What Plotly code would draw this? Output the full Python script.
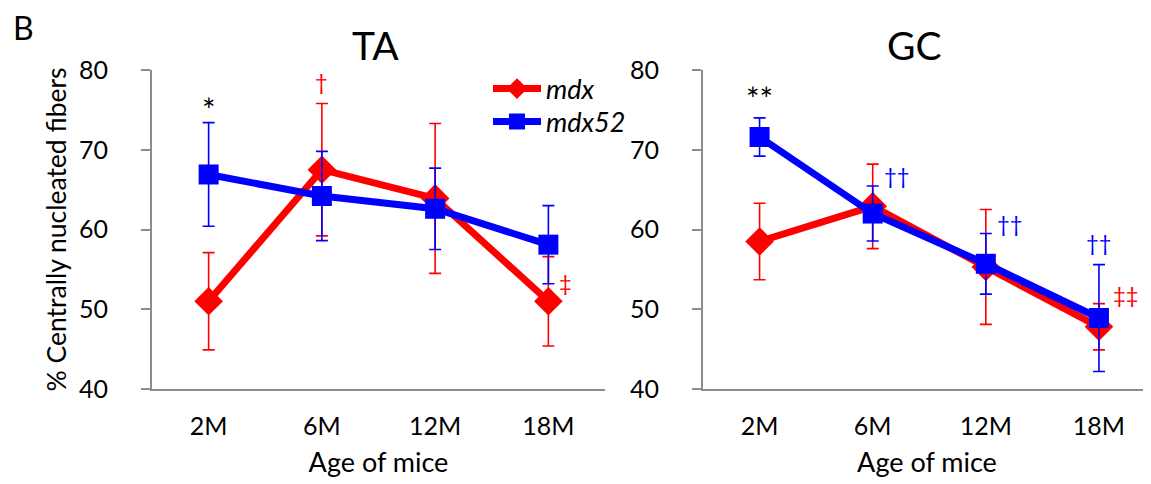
import plotly.graph_objects as go

ages = ["2M", "6M", "12M", "18M"]

ta_mdx = [51.0, 67.5, 63.9, 51.0]
ta_mdx_err = [6.1, 8.3, 9.4, 5.6]
ta_mdx52 = [66.9, 64.2, 62.6, 58.1]
ta_mdx52_err = [6.5, 5.6, 5.1, 4.9]

gc_mdx = [58.5, 62.9, 55.3, 47.8]
gc_mdx_err = [4.8, 5.3, 7.2, 2.9]
gc_mdx52 = [71.6, 62.0, 55.7, 48.9]
gc_mdx52_err = [2.4, 3.45, 3.8, 6.7]

RED = "#FF0000"
BLUE = "#0000FF"
FONT = "Lato"

OFF = 8  # default page body margin
W, H = 1151 - OFF, 484 - OFF
TOP, BOT = 70 - OFF, 389 - OFF  # plot area rows in figure pixels


def px(p):
    return (p - OFF) / W


def py(p):
    return (BOT - (p - OFF)) / (BOT - TOP)


fig = go.Figure()


def add_pair(xa, ya, mdx, mdx_e, m52, m52_e, show):
    fig.add_trace(go.Scatter(
        x=ages, y=mdx, name="<i>mdx</i>", mode="lines+markers",
        xaxis=xa, yaxis=ya, showlegend=show, legend="legend",
        line=dict(color=RED, width=7),
        marker=dict(symbol="diamond", size=22, color=RED),
        error_y=dict(type="data", array=mdx_e, visible=True, color=RED, thickness=1.6, width=6),
    ))
    fig.add_trace(go.Scatter(
        x=ages, y=m52, name="<i>mdx52</i>", mode="lines+markers",
        xaxis=xa, yaxis=ya, showlegend=show, legend="legend2",
        line=dict(color=BLUE, width=7),
        marker=dict(symbol="square", size=20, color=BLUE),
        error_y=dict(type="data", array=m52_e, visible=True, color=BLUE, thickness=1.6, width=6),
    ))


add_pair("x", "y", ta_mdx, ta_mdx_err, ta_mdx52, ta_mdx52_err, True)
add_pair("x2", "y2", gc_mdx, gc_mdx_err, gc_mdx52, gc_mdx52_err, False)

axis_common = dict(showline=True, linecolor="#8c8c8c", linewidth=2, showgrid=False, zeroline=False,
                   automargin=False, tickfont=dict(family=FONT, size=25, color="black"))

xcommon = dict(axis_common, type="category", ticks="", ticklabelstandoff=14,
               title=dict(text="Age of mice", font=dict(family=FONT, size=27, color="black"), standoff=14))
ycommon = dict(axis_common, range=[40, 80], tickvals=[40, 50, 60, 70, 80], ticks="outside",
               ticklen=9, tickcolor="#8c8c8c", tickwidth=2, ticklabelstandoff=28)

legend_common = dict(xanchor="left", yanchor="middle", bgcolor="rgba(0,0,0,0)",
                     font=dict(family=FONT, size=27, color="black"), itemwidth=48)

fig.update_layout(
    width=W, height=H,
    margin=dict(l=0, r=0, t=TOP, b=H - BOT, autoexpand=False),
    paper_bgcolor="white", plot_bgcolor="white",
    font=dict(family=FONT, color="black"),
    xaxis=dict(xcommon, domain=[px(152), px(605)], range=[-0.5, 3.5], anchor="y"),
    yaxis=dict(ycommon, domain=[0, 1], anchor="x",
               title=dict(text="% Centrally nucleated fibers", font=dict(family=FONT, size=26.5, color="black"), standoff=5)),
    xaxis2=dict(xcommon, domain=[px(703), 1.0], range=[-0.5, 3.46], anchor="y2"),
    yaxis2=dict(ycommon, domain=[0, 1], anchor="x2"),
    legend=dict(legend_common, x=px(488), y=py(89)),
    legend2=dict(legend_common, x=px(488), y=py(122)),
    showlegend=True,
)

fig.add_annotation(text="B", xref="paper", yref="paper", x=px(12), y=py(28), xanchor="left", yanchor="middle",
                   showarrow=False, borderpad=0, font=dict(family=FONT, size=32, color="black"))
fig.add_annotation(text="TA", xref="paper", yref="paper", x=px(375), y=py(45), xanchor="center", yanchor="middle",
                   showarrow=False, font=dict(family=FONT, size=39, color="black"))
fig.add_annotation(text="GC", xref="paper", yref="paper", x=px(914), y=py(45), xanchor="center", yanchor="middle",
                   showarrow=False, font=dict(family=FONT, size=39, color="black"))

marks = [
    ("x", "y", "2M", 75.0, "*", "black", 0, 32),
    ("x", "y", "6M", 78.6, "†", RED, 0, 22),
    ("x", "y", "18M", 53.4, "‡", RED, 17, 22),
    ("x2", "y2", "2M", 76.4, "**", "black", 0, 32),
    ("x2", "y2", "6M", 66.8, "††", BLUE, 24, 22),
    ("x2", "y2", "12M", 60.8, "††", BLUE, 24, 22),
    ("x2", "y2", "18M", 58.4, "††", BLUE, 0, 22),
    ("x2", "y2", "18M", 51.8, "‡‡", RED, 27, 22),
]
for xa, ya, xv, yv, t, c, dx, sz in marks:
    fig.add_annotation(text=t, xref=xa, yref=ya, x=xv, y=yv, xshift=dx, showarrow=False,
                       font=dict(family=FONT, size=sz, color=c))

fig.write_html("out.html")
